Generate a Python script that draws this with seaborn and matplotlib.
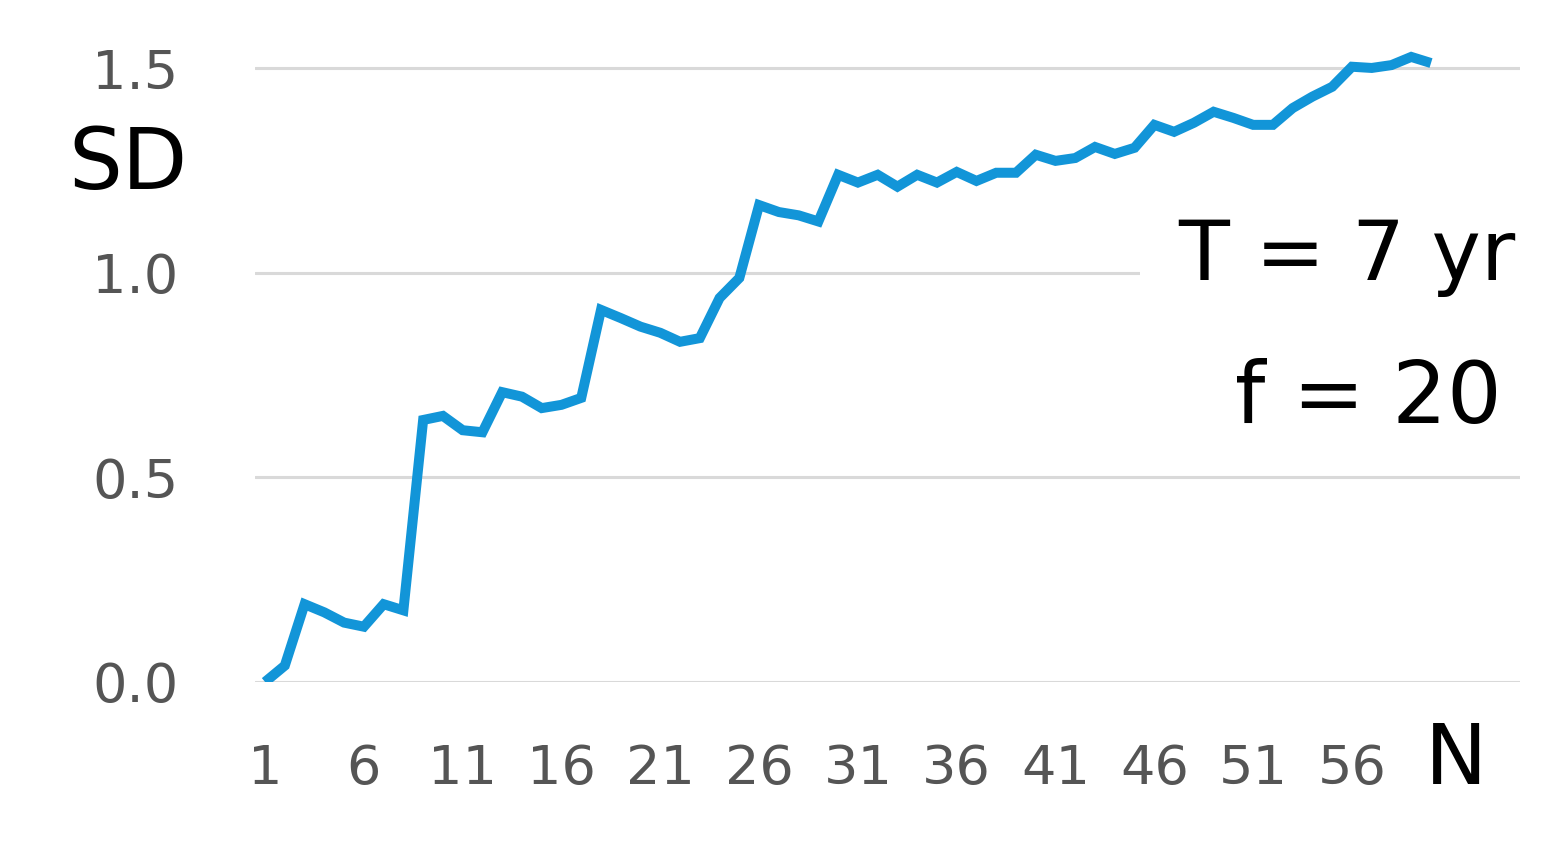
import matplotlib
matplotlib.use("Agg")
import matplotlib.pyplot as plt
from matplotlib.patches import Rectangle
import numpy as np
import seaborn as sns

# valores
N = np.arange(1, 61)
SD = [
    0.00, 0.04, 0.19, 0.17, 0.145, 0.135, 0.19, 0.175, 0.64, 0.65,
    0.615, 0.61, 0.708, 0.697, 0.669, 0.677, 0.694, 0.909, 0.889, 0.868,
    0.853, 0.831, 0.84, 0.938, 0.987, 1.165, 1.148, 1.14, 1.125, 1.239,
    1.22, 1.239, 1.21, 1.239, 1.22, 1.246, 1.224, 1.244, 1.244, 1.288,
    1.273, 1.28, 1.307, 1.29, 1.305, 1.361, 1.344, 1.366, 1.393, 1.378,
    1.361, 1.361, 1.402, 1.43, 1.454, 1.503, 1.5, 1.507, 1.527, 1.512,
]
x_ticks = [1, 6, 11, 16, 21, 26, 31, 36, 41, 46, 51, 56]
y_ticks = [0.0, 0.5, 1.0, 1.5]

sns.set_style("white")
plt.rcParams["font.family"] = ["DejaVu Sans"]

W, H = 1550, 846
fig = plt.figure(figsize=(15.5, 8.46), dpi=100)
ax = fig.add_axes([0.1645, 0.1939, 0.8161, 0.7548])

for y in y_ticks:
    ax.axhline(y, color="#d9d9d9", linewidth=2.2, zorder=1)

sns.lineplot(x=N, y=SD, color="#1295d8", linewidth=7.2, ax=ax, zorder=3,
             solid_capstyle="butt", solid_joinstyle="miter")

ax.set_xlim(0.49, 64.5)
ax.set_ylim(0, 1.56)
ax.set_xticks(x_ticks)
ax.set_xticklabels([str(t) for t in x_ticks])
ax.set_yticks(y_ticks)
ax.set_yticklabels([f"{t:.1f}" for t in y_ticks])
ax.tick_params(axis="both", length=0, labelsize=39, labelcolor="#555555")
ax.tick_params(axis="y", pad=55)
ax.tick_params(axis="x", pad=44)
ax.set_xlabel("")
ax.set_ylabel("")
sns.despine(ax=ax, left=True, bottom=True)

# recuadro blanco del texto (tapa la rejilla de 1.0)
fig.patches.append(Rectangle((1140 / W, 1 - 445 / H), 385 / W, 250 / H,
                             transform=fig.transFigure, facecolor="white",
                             edgecolor="none", zorder=2))

fig.text(128 / W, 1 - 165 / H, "SD", fontsize=61, ha="center",
         va="center", color="black")
fig.text(1456 / W, 1 - 760 / H, "N", fontsize=60, ha="center",
         va="center", color="black")
fig.text(1515 / W, 1 - 280 / H, "T = 7 yr", fontsize=60, ha="right",
         va="baseline", color="black", zorder=3)
fig.text(1502 / W, 1 - 423 / H, "f = 20", fontsize=62, ha="right",
         va="baseline", color="black", zorder=3)

fig.savefig("out.png", dpi=100)
